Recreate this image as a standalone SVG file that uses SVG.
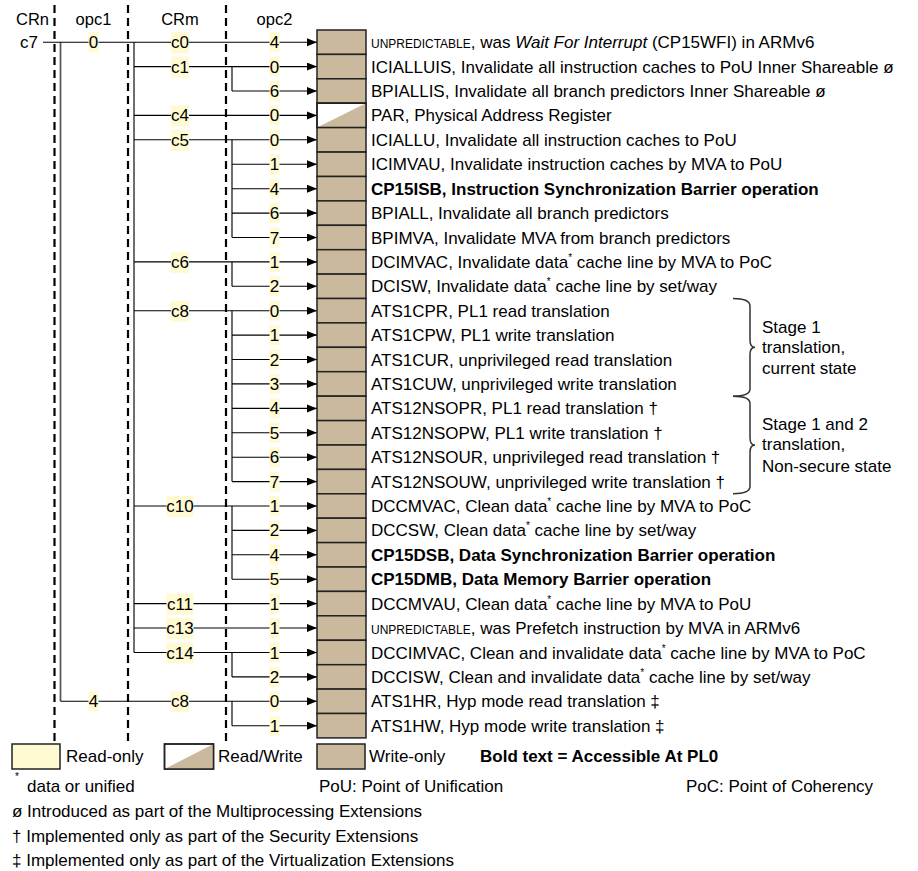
<svg xmlns="http://www.w3.org/2000/svg" width="918" height="871" viewBox="0 0 918 871">
<defs>
<style>
.t{font-family:"Liberation Sans",Arial,sans-serif;font-size:17px;fill:#000}
.hd{font-size:16.5px;text-anchor:middle}
.b{font-weight:bold}
.sc{font-size:12px}
.sup{font-size:10px}
.m{text-anchor:middle}
.hl{fill:#FFFAD2}
.cell{fill:#CBB99E;stroke:#222;stroke-width:1.5}
.rw{fill:#fff;stroke:#222;stroke-width:1.5}
.ro{fill:#FFFAD2;stroke:#222;stroke-width:1.5}
.dash{stroke:#000;stroke-width:2.2;stroke-dasharray:8 5;fill:none}
.h{stroke:#000;stroke-width:1.1;fill:none;marker-end:url(#ah)}
.v{stroke:#555;stroke-width:1.7;fill:none}
.br{stroke:#333;stroke-width:1.5;fill:none}
</style>
<marker id="ah" markerUnits="userSpaceOnUse" markerWidth="11" markerHeight="9" refX="10" refY="4" orient="auto">
<path d="M0,0 L10,4 L0,8 z" fill="#000"/>
</marker>
</defs>

<g id="headers">
<text class="t hd" x="32.5" y="25">CRn</text>
<text class="t hd" x="93.5" y="25">opc1</text>
<text class="t hd" x="180" y="25">CRm</text>
<text class="t hd" x="274.5" y="25">opc2</text>
<text class="t" x="38" y="48" text-anchor="end">c7</text>
</g>

<g id="column-dividers">
<line class="dash" x1="54.5" y1="5" x2="54.5" y2="742"/>
<line class="dash" x1="128" y1="5" x2="128" y2="742"/>
<line class="dash" x1="226" y1="5" x2="226" y2="742"/>
</g>

<g id="connectors">
<!-- verticals -->
<line class="v" x1="60.5" y1="42.2" x2="60.5" y2="701.3"/>
<line class="v" x1="134" y1="42.2" x2="134" y2="652.5"/>
<line class="v" x1="232" y1="66.6" x2="232" y2="91"/>
<line class="v" x1="232" y1="139.8" x2="232" y2="237.5"/>
<line class="v" x1="232" y1="261.9" x2="232" y2="286.3"/>
<line class="v" x1="232" y1="310.7" x2="232" y2="481.6"/>
<line class="v" x1="232" y1="506" x2="232" y2="579.2"/>
<line class="v" x1="232" y1="652.5" x2="232" y2="676.9"/>
<line class="v" x1="232" y1="701.3" x2="232" y2="725.7"/>
<!-- horizontals -->
<line class="h" x1="43" y1="42.2" x2="317" y2="42.2"/>
<line class="h" x1="134" y1="66.6" x2="317" y2="66.6"/>
<line class="h" x1="232" y1="91" x2="317" y2="91"/>
<line class="h" x1="134" y1="115.4" x2="317" y2="115.4"/>
<line class="h" x1="134" y1="139.8" x2="317" y2="139.8"/>
<line class="h" x1="232" y1="164.3" x2="317" y2="164.3"/>
<line class="h" x1="232" y1="188.7" x2="317" y2="188.7"/>
<line class="h" x1="232" y1="213.1" x2="317" y2="213.1"/>
<line class="h" x1="232" y1="237.5" x2="317" y2="237.5"/>
<line class="h" x1="134" y1="261.9" x2="317" y2="261.9"/>
<line class="h" x1="232" y1="286.3" x2="317" y2="286.3"/>
<line class="h" x1="134" y1="310.7" x2="317" y2="310.7"/>
<line class="h" x1="232" y1="335.1" x2="317" y2="335.1"/>
<line class="h" x1="232" y1="359.5" x2="317" y2="359.5"/>
<line class="h" x1="232" y1="383.9" x2="317" y2="383.9"/>
<line class="h" x1="232" y1="408.4" x2="317" y2="408.4"/>
<line class="h" x1="232" y1="432.8" x2="317" y2="432.8"/>
<line class="h" x1="232" y1="457.2" x2="317" y2="457.2"/>
<line class="h" x1="232" y1="481.6" x2="317" y2="481.6"/>
<line class="h" x1="134" y1="506" x2="317" y2="506"/>
<line class="h" x1="232" y1="530.4" x2="317" y2="530.4"/>
<line class="h" x1="232" y1="554.8" x2="317" y2="554.8"/>
<line class="h" x1="232" y1="579.2" x2="317" y2="579.2"/>
<line class="h" x1="134" y1="603.6" x2="317" y2="603.6"/>
<line class="h" x1="134" y1="628" x2="317" y2="628"/>
<line class="h" x1="134" y1="652.5" x2="317" y2="652.5"/>
<line class="h" x1="232" y1="676.9" x2="317" y2="676.9"/>
<line class="h" x1="60.5" y1="701.3" x2="317" y2="701.3"/>
<line class="h" x1="232" y1="725.7" x2="317" y2="725.7"/>
</g>

<g id="labels">
<!-- opc1 -->
<rect class="hl" x="88.5" y="32.2" width="10" height="20"/>
<text class="t m" x="93.5" y="48.2">0</text>
<rect class="hl" x="88.5" y="691.3" width="10" height="20"/>
<text class="t m" x="93.5" y="707.3">4</text>
<!-- CRm -->
<rect class="hl" x="171" y="32.2" width="18" height="21"/><text class="t m" x="180" y="48.2">c0</text>
<rect class="hl" x="171" y="56.6" width="18" height="21"/><text class="t m" x="180" y="72.6">c1</text>
<rect class="hl" x="171" y="105.4" width="18" height="21"/><text class="t m" x="180" y="121.4">c4</text>
<rect class="hl" x="171" y="129.8" width="18" height="21"/><text class="t m" x="180" y="145.8">c5</text>
<rect class="hl" x="171" y="251.9" width="18" height="21"/><text class="t m" x="180" y="267.9">c6</text>
<rect class="hl" x="171" y="300.7" width="18" height="21"/><text class="t m" x="180" y="316.7">c8</text>
<rect class="hl" x="166.5" y="496" width="27" height="21"/><text class="t m" x="180" y="512">c10</text>
<rect class="hl" x="166.5" y="593.6" width="27" height="21"/><text class="t m" x="180" y="609.6">c11</text>
<rect class="hl" x="166.5" y="618" width="27" height="21"/><text class="t m" x="180" y="634">c13</text>
<rect class="hl" x="166.5" y="642.5" width="27" height="21"/><text class="t m" x="180" y="658.5">c14</text>
<rect class="hl" x="171" y="691.3" width="18" height="21"/><text class="t m" x="180" y="707.3">c8</text>
<!-- opc2 -->
<g>
<rect class="hl" x="269.5" y="32.2" width="10" height="20"/><text class="t m" x="274.5" y="48.2">4</text>
<rect class="hl" x="269.5" y="56.6" width="10" height="20"/><text class="t m" x="274.5" y="72.6">0</text>
<rect class="hl" x="269.5" y="81" width="10" height="20"/><text class="t m" x="274.5" y="97">6</text>
<rect class="hl" x="269.5" y="105.4" width="10" height="20"/><text class="t m" x="274.5" y="121.4">0</text>
<rect class="hl" x="269.5" y="129.8" width="10" height="20"/><text class="t m" x="274.5" y="145.8">0</text>
<rect class="hl" x="269.5" y="154.3" width="10" height="20"/><text class="t m" x="274.5" y="170.3">1</text>
<rect class="hl" x="269.5" y="178.7" width="10" height="20"/><text class="t m" x="274.5" y="194.7">4</text>
<rect class="hl" x="269.5" y="203.1" width="10" height="20"/><text class="t m" x="274.5" y="219.1">6</text>
<rect class="hl" x="269.5" y="227.5" width="10" height="20"/><text class="t m" x="274.5" y="243.5">7</text>
<rect class="hl" x="269.5" y="251.9" width="10" height="20"/><text class="t m" x="274.5" y="267.9">1</text>
<rect class="hl" x="269.5" y="276.3" width="10" height="20"/><text class="t m" x="274.5" y="292.3">2</text>
<rect class="hl" x="269.5" y="300.7" width="10" height="20"/><text class="t m" x="274.5" y="316.7">0</text>
<rect class="hl" x="269.5" y="325.1" width="10" height="20"/><text class="t m" x="274.5" y="341.1">1</text>
<rect class="hl" x="269.5" y="349.5" width="10" height="20"/><text class="t m" x="274.5" y="365.5">2</text>
<rect class="hl" x="269.5" y="373.9" width="10" height="20"/><text class="t m" x="274.5" y="389.9">3</text>
<rect class="hl" x="269.5" y="398.4" width="10" height="20"/><text class="t m" x="274.5" y="414.4">4</text>
<rect class="hl" x="269.5" y="422.8" width="10" height="20"/><text class="t m" x="274.5" y="438.8">5</text>
<rect class="hl" x="269.5" y="447.2" width="10" height="20"/><text class="t m" x="274.5" y="463.2">6</text>
<rect class="hl" x="269.5" y="471.6" width="10" height="20"/><text class="t m" x="274.5" y="487.6">7</text>
<rect class="hl" x="269.5" y="496" width="10" height="20"/><text class="t m" x="274.5" y="512">1</text>
<rect class="hl" x="269.5" y="520.4" width="10" height="20"/><text class="t m" x="274.5" y="536.4">2</text>
<rect class="hl" x="269.5" y="544.8" width="10" height="20"/><text class="t m" x="274.5" y="560.8">4</text>
<rect class="hl" x="269.5" y="569.2" width="10" height="20"/><text class="t m" x="274.5" y="585.2">5</text>
<rect class="hl" x="269.5" y="593.6" width="10" height="20"/><text class="t m" x="274.5" y="609.6">1</text>
<rect class="hl" x="269.5" y="618" width="10" height="20"/><text class="t m" x="274.5" y="634">1</text>
<rect class="hl" x="269.5" y="642.5" width="10" height="20"/><text class="t m" x="274.5" y="658.5">1</text>
<rect class="hl" x="269.5" y="666.9" width="10" height="20"/><text class="t m" x="274.5" y="682.9">2</text>
<rect class="hl" x="269.5" y="691.3" width="10" height="20"/><text class="t m" x="274.5" y="707.3">0</text>
<rect class="hl" x="269.5" y="715.7" width="10" height="20"/><text class="t m" x="274.5" y="731.7">1</text>
</g>
</g>

<g id="r00"><rect class="cell" x="317" y="30" width="49" height="24.4"/><text class="t" x="371" y="48.2"><tspan class="sc">UNPREDICTABLE</tspan>, was <tspan font-style="italic">Wait For Interrupt</tspan> (CP15WFI) in ARMv6</text></g>
<g id="r01"><rect class="cell" x="317" y="54.4" width="49" height="24.4"/><text class="t" x="371" y="72.6">ICIALLUIS, Invalidate all instruction caches to PoU Inner Shareable ø</text></g>
<g id="r02"><rect class="cell" x="317" y="78.8" width="49" height="24.4"/><text class="t" x="371" y="97">BPIALLIS, Invalidate all branch predictors Inner Shareable ø</text></g>
<g id="r03"><rect class="rw" x="317" y="103.2" width="49" height="24.4"/><path d="M317,127.6 L366,103.2 L366,127.6 z" fill="#CBB99E"/><rect x="317" y="103.2" width="49" height="24.4" fill="none" stroke="#222" stroke-width="1.5"/><text class="t" x="371" y="121.4">PAR, Physical Address Register</text></g>
<g id="r04"><rect class="cell" x="317" y="127.6" width="49" height="24.4"/><text class="t" x="371" y="145.8">ICIALLU, Invalidate all instruction caches to PoU</text></g>
<g id="r05"><rect class="cell" x="317" y="152.1" width="49" height="24.4"/><text class="t" x="371" y="170.3">ICIMVAU, Invalidate instruction caches by MVA to PoU</text></g>
<g id="r06"><rect class="cell" x="317" y="176.5" width="49" height="24.4"/><text class="t b" x="371" y="194.7">CP15ISB, Instruction Synchronization Barrier operation</text></g>
<g id="r07"><rect class="cell" x="317" y="200.9" width="49" height="24.4"/><text class="t" x="371" y="219.1">BPIALL, Invalidate all branch predictors</text></g>
<g id="r08"><rect class="cell" x="317" y="225.3" width="49" height="24.4"/><text class="t" x="371" y="243.5">BPIMVA, Invalidate MVA from branch predictors</text></g>
<g id="r09"><rect class="cell" x="317" y="249.7" width="49" height="24.4"/><text class="t" x="371" y="267.9">DCIMVAC, Invalidate data<tspan class="sup" dy="-7">*</tspan><tspan dy="7"> cache line by MVA to PoC</tspan></text></g>
<g id="r10"><rect class="cell" x="317" y="274.1" width="49" height="24.4"/><text class="t" x="371" y="292.3">DCISW, Invalidate data<tspan class="sup" dy="-7">*</tspan><tspan dy="7"> cache line by set/way</tspan></text></g>
<g id="r11"><rect class="cell" x="317" y="298.5" width="49" height="24.4"/><text class="t" x="371" y="316.7">ATS1CPR, PL1 read translation</text></g>
<g id="r12"><rect class="cell" x="317" y="322.9" width="49" height="24.4"/><text class="t" x="371" y="341.1">ATS1CPW, PL1 write translation</text></g>
<g id="r13"><rect class="cell" x="317" y="347.3" width="49" height="24.4"/><text class="t" x="371" y="365.5">ATS1CUR, unprivileged read translation</text></g>
<g id="r14"><rect class="cell" x="317" y="371.7" width="49" height="24.4"/><text class="t" x="371" y="389.9">ATS1CUW, unprivileged write translation</text></g>
<g id="r15"><rect class="cell" x="317" y="396.2" width="49" height="24.4"/><text class="t" x="371" y="414.4">ATS12NSOPR, PL1 read translation †</text></g>
<g id="r16"><rect class="cell" x="317" y="420.6" width="49" height="24.4"/><text class="t" x="371" y="438.8">ATS12NSOPW, PL1 write translation †</text></g>
<g id="r17"><rect class="cell" x="317" y="445" width="49" height="24.4"/><text class="t" x="371" y="463.2">ATS12NSOUR, unprivileged read translation †</text></g>
<g id="r18"><rect class="cell" x="317" y="469.4" width="49" height="24.4"/><text class="t" x="371" y="487.6">ATS12NSOUW, unprivileged write translation †</text></g>
<g id="r19"><rect class="cell" x="317" y="493.8" width="49" height="24.4"/><text class="t" x="371" y="512">DCCMVAC, Clean data<tspan class="sup" dy="-7">*</tspan><tspan dy="7"> cache line by MVA to PoC</tspan></text></g>
<g id="r20"><rect class="cell" x="317" y="518.2" width="49" height="24.4"/><text class="t" x="371" y="536.4">DCCSW, Clean data<tspan class="sup" dy="-7">*</tspan><tspan dy="7"> cache line by set/way</tspan></text></g>
<g id="r21"><rect class="cell" x="317" y="542.6" width="49" height="24.4"/><text class="t b" x="371" y="560.8">CP15DSB, Data Synchronization Barrier operation</text></g>
<g id="r22"><rect class="cell" x="317" y="567" width="49" height="24.4"/><text class="t b" x="371" y="585.2">CP15DMB, Data Memory Barrier operation</text></g>
<g id="r23"><rect class="cell" x="317" y="591.4" width="49" height="24.4"/><text class="t" x="371" y="609.6">DCCMVAU, Clean data<tspan class="sup" dy="-7">*</tspan><tspan dy="7"> cache line by MVA to PoU</tspan></text></g>
<g id="r24"><rect class="cell" x="317" y="615.8" width="49" height="24.4"/><text class="t" x="371" y="634"><tspan class="sc">UNPREDICTABLE</tspan>, was Prefetch instruction by MVA in ARMv6</text></g>
<g id="r25"><rect class="cell" x="317" y="640.3" width="49" height="24.4"/><text class="t" x="371" y="658.5">DCCIMVAC, Clean and invalidate data<tspan class="sup" dy="-7">*</tspan><tspan dy="7"> cache line by MVA to PoC</tspan></text></g>
<g id="r26"><rect class="cell" x="317" y="664.7" width="49" height="24.4"/><text class="t" x="371" y="682.9">DCCISW, Clean and invalidate data<tspan class="sup" dy="-7">*</tspan><tspan dy="7"> cache line by set/way</tspan></text></g>
<g id="r27"><rect class="cell" x="317" y="689.1" width="49" height="24.4"/><text class="t" x="371" y="707.3">ATS1HR, Hyp mode read translation ‡</text></g>
<g id="r28"><rect class="cell" x="317" y="713.5" width="49" height="24.4"/><text class="t" x="371" y="731.7">ATS1HW, Hyp mode write translation ‡</text></g>

<g id="brace-stage1">
<path class="br" d="M733,298.5 Q750,298.5 750,306 L750,340 Q750,347.3 755,347.3 Q750,347.3 750,354.6 L750,389 Q750,396.2 733,396.2"/>
<text class="t" x="762" y="333">Stage 1</text>
<text class="t" x="762" y="353">translation,</text>
<text class="t" x="762" y="374">current state</text>
</g>
<g id="brace-stage12">
<path class="br" d="M733,396.2 Q750,396.2 750,403.4 L750,437.7 Q750,445 755,445 Q750,445 750,452.3 L750,486.6 Q750,493.8 733,493.8"/>
<text class="t" x="762" y="430">Stage 1 and 2</text>
<text class="t" x="762" y="450">translation,</text>
<text class="t" x="762" y="472">Non-secure state</text>
</g>

<g id="legend">
<rect class="ro" x="12" y="744" width="48" height="25"/>
<text class="t" x="66" y="762">Read-only</text>
<rect class="rw" x="164.5" y="744" width="49" height="25"/>
<path d="M164.5,769 L213.5,744 L213.5,769 z" fill="#CBB99E"/>
<rect x="164.5" y="744" width="49" height="25" fill="none" stroke="#222" stroke-width="1.5"/>
<text class="t" x="218" y="762">Read/Write</text>
<rect class="cell" x="317" y="744" width="48" height="25"/>
<text class="t" x="369" y="762">Write-only</text>
<text class="t b" x="480" y="762">Bold text = Accessible At PL0</text>
</g>

<g id="notes">
<text class="t sup" x="15" y="780">*</text>
<text class="t" x="27" y="792">data or unified</text>
<text class="t" x="319" y="792">PoU: Point of Unification</text>
<text class="t" x="686" y="792">PoC: Point of Coherency</text>
<text class="t" x="12" y="817">ø Introduced as part of the Multiprocessing Extensions</text>
<text class="t" x="12" y="841.5">† Implemented only as part of the Security Extensions</text>
<text class="t" x="12" y="866">‡ Implemented only as part of the Virtualization Extensions</text>
</g>
</svg>
